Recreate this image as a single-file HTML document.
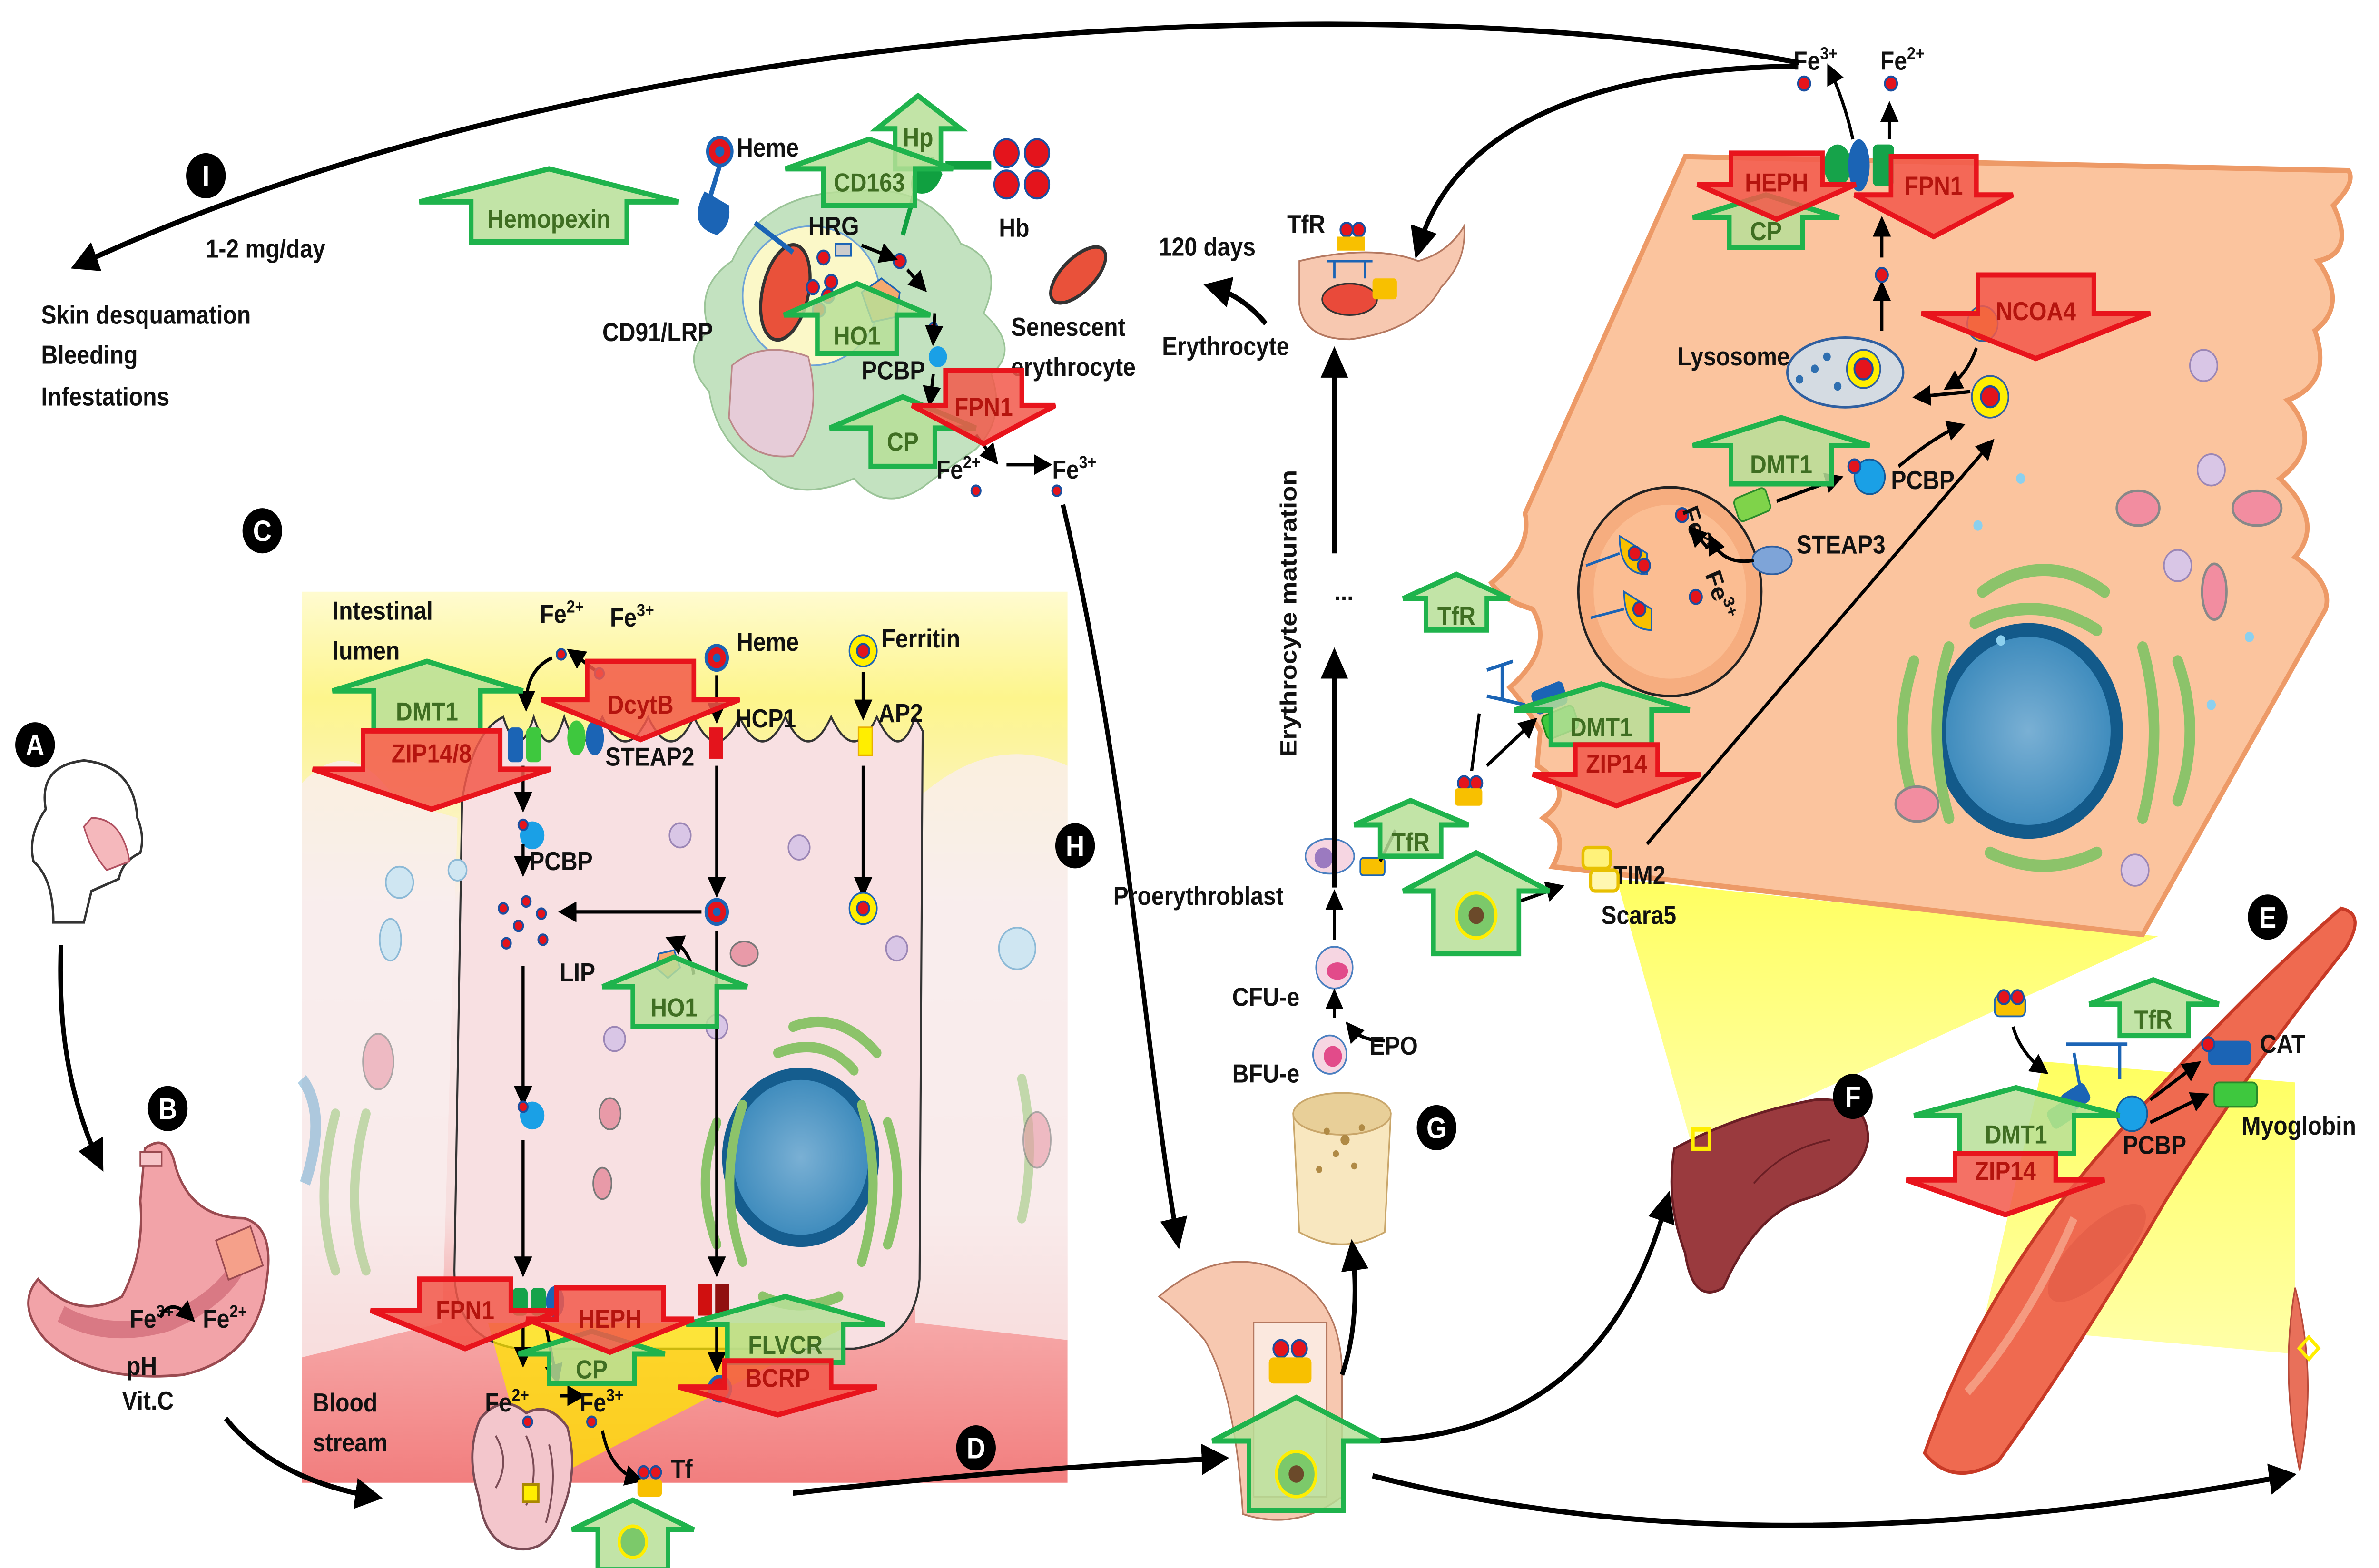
<!DOCTYPE html>
<html><head><meta charset="utf-8"><style>
html,body{margin:0;padding:0;background:#fff;width:100%;height:100%;overflow:hidden}
svg{display:block;position:absolute;left:0;top:0;width:100vw;height:100vh}
text{font-family:"Liberation Sans",sans-serif;font-weight:bold}
.t{font-size:15px;fill:#111}
.g{fill:#b7df98;fill-opacity:.85;stroke:#1fb34c;stroke-width:3;stroke-linejoin:miter}
.r{fill:#f2584a;fill-opacity:.85;stroke:#e8141c;stroke-width:3}
.gl{font-size:15px;fill:#3f6e22;text-anchor:middle}
.rl{font-size:15px;fill:#b5140e;text-anchor:middle}
.ar{fill:none;stroke:#000;stroke-width:3;marker-end:url(#ah)}
.as{fill:none;stroke:#000;stroke-width:2;marker-end:url(#ah2)}
.fe{fill:#e4141c;stroke:#1a4fa0;stroke-width:1.2}
.let{fill:#000}
.lt{fill:#fff;font-size:17px;text-anchor:middle}
</style></head><body>
<svg viewBox="0 0 1560 901" preserveAspectRatio="none" xmlns="http://www.w3.org/2000/svg" overflow="hidden">
<defs>
<marker id="ah" markerWidth="6" markerHeight="6" refX="4" refY="3" orient="auto" markerUnits="strokeWidth"><path d="M0,0 L6,3 L0,6 z" fill="#000"/></marker>
<marker id="ah2" markerWidth="6" markerHeight="6" refX="4" refY="3" orient="auto" markerUnits="strokeWidth"><path d="M0,0 L6,3 L0,6 z" fill="#000"/></marker>
<linearGradient id="intg" x1="0" y1="0" x2="0" y2="1">
<stop offset="0" stop-color="#fffbd0"/><stop offset="0.12" stop-color="#fdf58c"/><stop offset="0.28" stop-color="#fbf3c8"/><stop offset="0.35" stop-color="#f9ecec"/><stop offset="0.7" stop-color="#f7dede"/><stop offset="0.82" stop-color="#f6a8a8"/><stop offset="1" stop-color="#f27e7e"/>
</linearGradient>
<linearGradient id="yl" x1="0" y1="0" x2="0" y2="1"><stop offset="0" stop-color="#ffff60"/><stop offset="1" stop-color="#ffffa8"/></linearGradient>
<radialGradient id="nuc"><stop offset="0" stop-color="#7ab0d4"/><stop offset="1" stop-color="#3c8abc"/></radialGradient>
<clipPath id="cl"><rect x="0" y="0" width="1560" height="901"/></clipPath>
</defs>
<g clip-path="url(#cl)">
<rect x="198" y="340" width="502" height="512" fill="url(#intg)"/>
<path d="M198,450 Q230,420 260,460 L300,470 L290,760 L198,780 Z" fill="#f9eeee" opacity=".8"/>
<path d="M600,460 Q650,420 700,440 L700,770 L600,760 Z" fill="#f9eeee" opacity=".8"/>
<path d="M330,412 Q340,440 350,412 Q360,440 370,412 Q380,440 395,412 Q410,440 425,412 Q440,440 455,412 Q470,440 485,412 Q500,440 515,412 Q530,440 545,412 Q560,440 575,412 Q590,440 600,412 L605,420 L603,735 Q600,770 560,775 L340,775 Q298,770 298,730 L303,460 Q310,420 330,412 Z" fill="#f8e0e2" stroke="#333" stroke-width="1.3"/>
<circle cx="525" cy="665" r="48" fill="url(#nuc)" stroke="#155d8e" stroke-width="7"/>
<g fill="none" stroke="#8cc36a" stroke-width="6" stroke-linecap="round">
<path d="M470,645 Q455,680 470,715"/><path d="M487,635 Q470,680 487,725"/><path d="M582,645 Q595,680 582,715"/><path d="M565,635 Q580,680 565,725"/><path d="M520,590 Q550,580 575,605"/><path d="M510,605 Q540,595 560,615"/><path d="M500,745 Q525,755 550,745"/>
<path d="M220,640 Q205,690 220,730" opacity=".5"/><path d="M240,640 Q225,690 240,730" opacity=".5"/><path d="M670,620 Q680,660 670,700" opacity=".5"/>
</g>
<g fill="#d9c6e6" stroke="#9b86b5"><circle cx="446" cy="480" r="7"/><circle cx="524" cy="487" r="7"/><circle cx="588" cy="545" r="7"/><circle cx="470" cy="590" r="7"/><circle cx="403" cy="597" r="7"/></g>
<g fill="#cfe6f2" stroke="#8cb9d6"><circle cx="262" cy="507" r="9"/><circle cx="300" cy="500" r="6"/><circle cx="667" cy="545" r="12"/><ellipse cx="256" cy="540" rx="7" ry="12"/></g>
<g fill="#e89aa8" stroke="#777"><ellipse cx="488" cy="548" rx="9" ry="7"/><ellipse cx="400" cy="640" rx="7" ry="9"/><ellipse cx="395" cy="680" rx="6" ry="9"/><ellipse cx="248" cy="610" rx="10" ry="16" opacity=".6"/><ellipse cx="680" cy="655" rx="9" ry="16" opacity=".6"/></g>
<path d="M198,620 Q215,640 200,680" fill="none" stroke="#7ab0d4" stroke-width="7" opacity=".6"/>
<polygon points="320,760 560,760 350,855" fill="#ffe600" opacity=".75"/>
<path d="M315,815 Q330,800 345,812 Q360,805 372,820 Q380,845 368,870 Q360,892 340,890 Q318,888 314,860 Q305,835 315,815 Z" fill="#f3c6cc" stroke="#7a4b55" stroke-width="1.5"/>
<path d="M325,825 Q335,840 325,855 M345,825 Q355,845 345,865 M360,830 Q366,850 358,875" fill="none" stroke="#7a4b55" stroke-width="1.2"/>
<rect x="343" y="853" width="10" height="10" fill="#ffee00" stroke="#aa8800" stroke-width="1.5"/>

<polygon points="1060,505 1415,538 1110,660" fill="url(#yl)"/>
<path d="M1105,90 L1540,98 Q1545,105 1530,118 Q1545,145 1520,150 Q1540,175 1518,190 Q1530,220 1500,230 Q1525,255 1495,275 Q1525,300 1505,320 Q1530,335 1525,350 L1405,537 L1018,498 Q1030,480 1012,470 Q1035,455 1008,440 L1010,420 Q1000,405 990,395 Q1020,372 1005,350 Q985,345 978,335 Q1005,315 1000,295 Z" fill="#fbc49e" stroke="#ed9a67" stroke-width="3"/>
<circle cx="1095" cy="340" r="60" fill="#f6ad7f" stroke="#222" stroke-width="1.5"/>
<circle cx="1095" cy="340" r="50" fill="#fbbd92"/>
<circle cx="1330" cy="420" r="58" fill="url(#nuc)" stroke="#135a8a" stroke-width="8"/>
<g fill="none" stroke="#8cc36a" stroke-width="7" stroke-linecap="round">
<path d="M1255,380 Q1240,420 1255,460"/><path d="M1278,372 Q1262,420 1278,470"/><path d="M1405,372 Q1420,420 1405,470"/><path d="M1428,380 Q1444,420 1428,460"/>
<path d="M1300,340 Q1340,315 1380,340"/><path d="M1295,358 Q1335,340 1375,362"/><path d="M1305,490 Q1340,505 1375,490"/>
</g>
<g fill="#d9c6e6" stroke="#9b86b5"><circle cx="1445" cy="210" r="9"/><circle cx="1450" cy="270" r="9"/><circle cx="1428" cy="325" r="9"/><circle cx="1400" cy="500" r="9"/></g>
<g fill="#f28da0" stroke="#888" stroke-width="1.5"><ellipse cx="1402" cy="292" rx="14" ry="10"/><ellipse cx="1480" cy="292" rx="16" ry="10"/><ellipse cx="1452" cy="340" rx="8" ry="16"/><ellipse cx="1257" cy="462" rx="14" ry="10"/></g>
<g fill="#8cd0ee"><circle cx="1325" cy="275" r="3"/><circle cx="1297" cy="302" r="3"/><circle cx="1450" cy="405" r="3"/><circle cx="1475" cy="366" r="3"/><circle cx="1312" cy="368" r="3"/></g>
<ellipse cx="1210" cy="214" rx="38" ry="20" fill="#d4dbe2" stroke="#2f5fa0" stroke-width="1.5"/>
<g fill="#2f6fb0"><circle cx="1190" cy="212" r="2.5"/><circle cx="1198" cy="205" r="2.5"/><circle cx="1205" cy="222" r="2.5"/><circle cx="1180" cy="218" r="2.5"/></g>
<circle cx="1222" cy="212" r="11" fill="#ffee00" stroke="#2f5fa0"/><circle cx="1222" cy="212" r="6" class="fe"/>
<circle cx="1305" cy="228" r="12" fill="#ffee00" stroke="#2f5fa0"/><circle cx="1305" cy="228" r="6" class="fe"/>
<circle cx="1300" cy="186" r="10" fill="#f5b300" stroke="#2f5fa0"/>
<path d="M1062,308 Q1062,330 1080,330 L1080,318 Z" fill="#f8c000" stroke="#1b64b5"/>
<path d="M1065,340 Q1065,362 1083,362 L1083,350 Z" fill="#f8c000" stroke="#1b64b5"/>
<path d="M1040,325 L1062,318 M1043,355 L1065,350" stroke="#1b64b5" stroke-width="1.5"/>
<circle cx="1072" cy="318" r="4" class="fe"/><circle cx="1075" cy="350" r="4" class="fe"/><circle cx="1078" cy="325" r="4" class="fe"/><circle cx="1103" cy="296" r="4" class="fe"/><circle cx="1112" cy="343" r="4" class="fe"/>
<text x="1103" y="293" class="t" transform="rotate(70 1103 293)">Fe<tspan font-size="10" dy="-6">2+</tspan></text>
<text x="1118" y="330" class="t" transform="rotate(70 1118 330)">Fe<tspan font-size="10" dy="-6">3+</tspan></text>
<rect x="1138" y="283" width="22" height="14" rx="3" fill="#7fd34a" stroke="#2a8a2a" transform="rotate(-20 1149 290)"/>
<ellipse cx="1162" cy="322" rx="13" ry="8" fill="#7ea4d8" stroke="#2f5fa0"/>
<path d="M1150,322 Q1130,325 1122,310" class="as"/>
<path d="M1120,315 L1110,305" class="as"/>
<circle cx="1226" cy="274" r="10" fill="#1aa0e6" stroke="#145a99"/><circle cx="1216" cy="268" r="4" class="fe"/>
<path d="M1165,288 L1205,275" class="as"/>
<path d="M1245,268 Q1270,250 1285,245" class="as"/>
<path d="M1080,485 L1305,255" class="as"/>
<path d="M1292,225 L1258,228" class="as"/>
<path d="M1296,200 Q1290,215 1278,222" class="as"/>
<path d="M1234,190 L1234,165" class="as"/>
<circle cx="1234" cy="158" r="4" class="fe"/>
<path d="M1234,148 L1234,128" class="as"/>
<ellipse cx="1205" cy="95" rx="9" ry="12" fill="#16a34a"/><ellipse cx="1219" cy="95" rx="7" ry="15" fill="#1b64b5"/><rect x="1228" y="83" width="14" height="24" rx="3" fill="#16a34a"/>
<path d="M1215,80 Q1210,60 1200,40" class="as"/><path d="M1239,80 L1239,62" class="as"/>
<text x="1176" y="40" class="t">Fe<tspan font-size="10" dy="-6">3+</tspan></text>
<text x="1233" y="40" class="t">Fe<tspan font-size="10" dy="-6">2+</tspan></text>
<circle cx="1183" cy="48" r="4" class="fe"/><circle cx="1240" cy="48" r="4" class="fe"/>
<text x="1100" y="210" class="t">Lysosome</text>
<text x="1240" y="281" class="t">PCBP</text>
<text x="1178" y="318" class="t">STEAP3</text>
<text x="1058" y="508" class="t">TIM2</text>
<text x="1050" y="531" class="t">Scara5</text>
<rect x="1038" y="487" width="18" height="12" rx="3" fill="#fff27a" stroke="#e8c000" stroke-width="2"/><rect x="1043" y="500" width="18" height="12" rx="3" fill="#fff7b0" stroke="#e8c000" stroke-width="2"/>
<path d="M975,385 L992,380 M975,400 L1000,405 M985,382 L985,402" stroke="#1b64b5" stroke-width="2" fill="none"/>
<rect x="1005" y="394" width="22" height="14" rx="3" fill="#1b64b5" transform="rotate(-20 1016 401)"/>
<rect x="1012" y="408" width="22" height="14" rx="3" fill="#3ec83e" stroke="#1a8a1a" transform="rotate(-20 1023 415)"/>

<path d="M1098,660 Q1140,640 1190,632 Q1225,630 1225,655 Q1220,680 1180,690 Q1150,700 1130,740 Q1110,750 1105,720 Q1092,690 1098,660 Z" fill="#9a3a3e" stroke="#6a1e24" stroke-width="1.5"/>
<path d="M1150,680 Q1170,660 1200,655" stroke="#6a1e24" fill="none"/>
<rect x="1110" y="649" width="11" height="11" fill="none" stroke="#ffee00" stroke-width="2.5"/>

<polygon points="1340,610 1505,622 1505,778 1300,762" fill="url(#yl)"/>
<path d="M1262,835 Q1300,740 1380,660 Q1460,580 1535,522 Q1552,525 1538,545 Q1470,620 1420,690 Q1360,780 1310,840 Q1280,855 1262,835 Z" fill="#ef6a50" stroke="#c83a26" stroke-width="2"/>
<path d="M1290,800 Q1330,760 1360,700" stroke="#f59a80" stroke-width="5" fill="none"/>
<ellipse cx="1375" cy="720" rx="40" ry="15" fill="#e05a44" opacity=".6" transform="rotate(-40 1375 720)"/>
<path d="M1505,740 Q1520,790 1508,845 Q1495,790 1505,740 Z" fill="#e8705a" stroke="#b84a3a"/>
<rect x="1510" y="770" width="9" height="9" fill="none" stroke="#ffee00" stroke-width="2" transform="rotate(45 1514 774)"/>
<rect x="1308" y="572" width="20" height="12" rx="3" fill="#f8c000" stroke="#1b64b5"/><circle cx="1314" cy="573" r="4" class="fe"/><circle cx="1323" cy="573" r="4" class="fe"/>
<path d="M1355,600 L1395,600 M1360,605 L1365,630 M1390,600 L1390,620" stroke="#1b64b5" stroke-width="2" fill="none"/>
<rect x="1352" y="625" width="18" height="12" rx="3" fill="#1b64b5" transform="rotate(-30 1361 631)"/>
<rect x="1343" y="634" width="18" height="12" rx="3" fill="#3ec83e" transform="rotate(-30 1352 640)"/>
<circle cx="1398" cy="640" r="10" fill="#1aa0e6" stroke="#145a99"/>
<rect x="1448" y="598" width="28" height="14" rx="3" fill="#1b64b5"/><rect x="1452" y="622" width="28" height="14" rx="3" fill="#3ec83e" stroke="#2a8a2a"/>
<circle cx="1448" cy="600" r="4" class="fe"/>
<path d="M1320,590 Q1325,605 1340,615" class="as"/><path d="M1410,632 L1440,612" class="as"/><path d="M1410,645 L1445,630" class="as"/>
<text x="1482" y="605" class="t">CAT</text>
<text x="1470" y="652" class="t">Myoglobin</text>
<text x="1392" y="663" class="t">PCBP</text>

<path d="M848,640 Q880,630 912,640 L908,708 Q880,722 852,708 Z" fill="#f8e7bf" stroke="#c9a66a"/>
<ellipse cx="880" cy="640" rx="32" ry="12" fill="#e8cf98" stroke="#c9a66a"/>
<g fill="#b08a45"><circle cx="870" cy="650" r="2"/><circle cx="882" cy="655" r="3"/><circle cx="893" cy="648" r="2"/><circle cx="876" cy="663" r="2"/><circle cx="888" cy="670" r="2"/><circle cx="865" cy="672" r="2"/></g>
<circle cx="872" cy="606" r="11" fill="#f6d6e2" stroke="#4a7fc0"/><circle cx="874" cy="607" r="6" fill="#e24b8a"/>
<circle cx="875" cy="556" r="12" fill="#f6d6e2" stroke="#4a7fc0"/><ellipse cx="877" cy="558" rx="7" ry="5" fill="#e24b8a"/>
<ellipse cx="872" cy="492" rx="16" ry="10" fill="#f6d6e2" stroke="#4a7fc0"/><circle cx="868" cy="493" r="6" fill="#9b7ac0"/>
<rect x="892" y="493" width="16" height="10" rx="2" fill="#f8c000" stroke="#1b64b5"/>
<circle cx="960" cy="450" r="4" class="fe"/><circle cx="968" cy="450" r="4" class="fe"/><rect x="954" y="453" width="18" height="10" rx="2" fill="#f8c000"/>
<path d="M760,745 Q800,715 840,730 Q880,745 880,790 L880,860 Q850,880 815,870 Q810,800 790,770 Q775,755 760,745 Z" fill="#f7c8b0" stroke="#b47860"/>
<path d="M822,760 L870,760 L870,860 L822,860 Z" fill="#fbe8de" stroke="#b47860"/>
<circle cx="840" cy="775" r="5" class="fe"/><circle cx="852" cy="775" r="5" class="fe"/><rect x="832" y="780" width="28" height="15" rx="3" fill="#f8c000"/>
<path d="M852,150 Q900,140 930,150 Q950,145 960,130 Q962,150 945,165 Q930,190 885,195 Q855,195 852,175 Z" fill="#f7c8b0" stroke="#b47860"/>
<ellipse cx="885" cy="172" rx="18" ry="9" fill="#e94a3a" stroke="#333"/>
<rect x="900" y="160" width="16" height="12" rx="2" fill="#f8c000"/><circle cx="883" cy="132" r="4" class="fe"/><circle cx="891" cy="132" r="4" class="fe"/><rect x="877" y="136" width="18" height="8" fill="#f8c000"/>
<path d="M870,150 L900,150 M875,150 L875,160 M895,150 L895,160" stroke="#1b64b5" stroke-width="1.5"/>
<path d="M480,150 Q500,110 560,110 Q610,105 630,140 Q660,150 645,180 Q670,200 650,215 Q660,240 640,258 Q620,270 605,280 Q580,295 560,275 Q520,290 500,270 Q470,255 465,225 Q445,205 465,190 Q455,165 480,150 Z" fill="#c3e2c0" stroke="#9bc498"/>
<ellipse cx="532" cy="170" rx="45" ry="40" fill="#fbf8c8" stroke="#6ea3d6"/>
<ellipse cx="515" cy="168" rx="15" ry="28" fill="#e9513a" stroke="#333" stroke-width="2" transform="rotate(15 515 168)"/>
<path d="M480,210 Q500,195 530,205 Q540,240 520,262 Q490,265 478,240 Z" fill="#e6ccd8" stroke="#b88"/>
<g class="fe"><circle cx="540" cy="148" r="4"/><circle cx="533" cy="165" r="4"/><circle cx="543" cy="170" r="4"/><circle cx="537" cy="178" r="4"/><circle cx="545" cy="162" r="4"/></g>
<polygon points="565,168 578,160 590,168 588,182 572,185" fill="#f5a96e" stroke="#1b64b5"/>
<rect x="548" y="140" width="10" height="7" fill="#ccc" stroke="#1b64b5"/>
<circle cx="590" cy="150" r="4" class="fe"/><circle cx="612" cy="188" r="2.5" class="fe"/>
<circle cx="615" cy="205" r="6" fill="#1aa0e6"/>
<path d="M565,141 L585,148" class="as"/><path d="M595,155 L605,165" class="as"/><path d="M613,180 L612,195" class="as"/><path d="M612,215 L610,230" class="as"/><path d="M640,250 L652,264" class="as"/><path d="M660,267 L686,267" class="as"/>
<circle cx="472" cy="87" r="8" fill="#e4141c" stroke="#1b64b5" stroke-width="2"/><circle cx="472" cy="87" r="3" fill="#1b64b5"/>
<path d="M472,95 L465,115 M495,128 L520,145" stroke="#1b64b5" stroke-width="3"/>
<path d="M462,110 Q450,130 470,135 Q480,130 478,118 Z" fill="#1b64b5"/>
<path d="M612,90 Q595,95 598,110 Q612,115 618,100 Z" fill="#10a040"/><path d="M620,95 L650,95" stroke="#10a040" stroke-width="5"/><path d="M600,110 L592,135" stroke="#10a040" stroke-width="3"/>
<g class="fe"><circle cx="660" cy="88" r="8"/><circle cx="680" cy="88" r="8"/><circle cx="660" cy="106" r="8"/><circle cx="680" cy="106" r="8"/></g>
<ellipse cx="707" cy="158" rx="10" ry="22" fill="#e9513a" stroke="#333" stroke-width="2" transform="rotate(50 707 158)"/>
<text x="483" y="90" class="t">Heme</text>
<text x="655" y="136" class="t">Hb</text>
<text x="530" y="135" class="t">HRG</text>
<text x="395" y="196" class="t">CD91/LRP</text>
<text x="565" y="218" class="t">PCBP</text>
<text x="663" y="193" class="t">Senescent</text>
<text x="663" y="216" class="t">erythrocyte</text>
<text x="614" y="275" class="t">Fe<tspan font-size="10" dy="-6">2+</tspan></text>
<text x="690" y="275" class="t">Fe<tspan font-size="10" dy="-6">3+</tspan></text>
<circle cx="640" cy="282" r="3" class="fe"/><circle cx="693" cy="282" r="3" class="fe"/>

<rect x="333" y="418" width="10" height="20" rx="3" fill="#1b64b5"/><rect x="345" y="418" width="10" height="20" rx="3" fill="#3ec83e"/>
<ellipse cx="378" cy="424" rx="6" ry="10" fill="#3ec83e"/><ellipse cx="390" cy="424" rx="6" ry="10" fill="#1b64b5"/>
<rect x="465" y="418" width="9" height="18" fill="#e4141c"/><rect x="563" y="418" width="9" height="16" fill="#ffee00" stroke="#e8b000"/>
<circle cx="470" cy="378" r="7" fill="#e4141c" stroke="#1b64b5" stroke-width="2"/><circle cx="470" cy="378" r="2.5" fill="#1b64b5"/>
<circle cx="566" cy="374" r="9" fill="#ffee00" stroke="#1b64b5"/><circle cx="566" cy="374" r="4" class="fe"/>
<circle cx="368" cy="376" r="3" class="fe"/><circle cx="393" cy="387" r="3" class="fe"/>
<path d="M362,378 Q345,385 345,405" class="as"/><path d="M390,385 L375,375" class="as"/>
<path d="M470,388 L470,412" class="as"/><path d="M566,386 L566,410" class="as"/>
<path d="M343,440 L343,463" class="as"/><circle cx="349" cy="480" r="8" fill="#1aa0e6"/><circle cx="343" cy="474" r="3" class="fe"/>
<path d="M343,485 L343,500" class="as"/>
<g class="fe"><circle cx="330" cy="522" r="3"/><circle cx="345" cy="518" r="3"/><circle cx="355" cy="525" r="3"/><circle cx="340" cy="532" r="3"/><circle cx="332" cy="542" r="3"/><circle cx="356" cy="540" r="3"/></g>
<path d="M470,440 L470,512" class="as"/><circle cx="470" cy="524" r="7" fill="#e4141c" stroke="#1b64b5" stroke-width="2"/><circle cx="470" cy="524" r="2.5" fill="#1b64b5"/>
<path d="M460,524 L370,524" class="as"/><path d="M455,560 Q452,545 440,540" class="as"/>
<polygon points="432,548 442,546 446,556 438,562 430,556" fill="#f5a96e" stroke="#1b64b5"/>
<path d="M566,440 L566,512" class="as"/><circle cx="566" cy="522" r="9" fill="#ffee00" stroke="#1b64b5"/><circle cx="566" cy="522" r="4" class="fe"/>
<path d="M343,555 L343,632" class="as"/><circle cx="349" cy="641" r="8" fill="#1aa0e6"/><circle cx="343" cy="636" r="3" class="fe"/>
<path d="M343,655 L343,730" class="as"/><path d="M470,535 L470,730" class="as"/>
<rect x="336" y="740" width="10" height="16" rx="3" fill="#16a34a"/><rect x="348" y="740" width="10" height="16" rx="3" fill="#16a34a"/><ellipse cx="364" cy="748" rx="6" ry="9" fill="#1b64b5"/>
<rect x="458" y="738" width="9" height="18" fill="#d01010"/><rect x="469" y="738" width="9" height="18" fill="#901010"/>
<path d="M343,762 L343,782" class="as"/><path d="M358,762 Q362,780 365,792" class="as"/><path d="M470,762 L470,785" class="as"/>
<circle cx="472" cy="798" r="7" fill="#e4141c" stroke="#1b64b5" stroke-width="2"/>
<path d="M367,802 L380,802" class="as"/>
<circle cx="346" cy="817" r="3" class="fe"/><circle cx="388" cy="817" r="3" class="fe"/>
<path d="M395,822 Q400,845 418,850" class="as"/>
<rect x="418" y="850" width="16" height="10" rx="2" fill="#f8c000"/><circle cx="422" cy="846" r="3.5" class="fe"/><circle cx="430" cy="846" r="3.5" class="fe"/>
<text x="218" y="356" class="t">Intestinal</text>
<text x="218" y="379" class="t">lumen</text>
<text x="354" y="358" class="t">Fe<tspan font-size="10" dy="-6">2+</tspan></text>
<text x="400" y="360" class="t">Fe<tspan font-size="10" dy="-6">3+</tspan></text>
<text x="483" y="374" class="t">Heme</text>
<text x="578" y="372" class="t">Ferritin</text>
<text x="482" y="418" class="t">HCP1</text>
<text x="576" y="415" class="t">AP2</text>
<text x="397" y="440" class="t">STEAP2</text>
<text x="347" y="500" class="t">PCBP</text>
<text x="367" y="564" class="t">LIP</text>
<text x="205" y="811" class="t">Blood</text>
<text x="205" y="834" class="t">stream</text>
<text x="318" y="811" class="t">Fe<tspan font-size="10" dy="-6">2+</tspan></text>
<text x="380" y="811" class="t">Fe<tspan font-size="10" dy="-6">3+</tspan></text>
<text x="440" y="849" class="t">Tf</text>

<path d="M95,660 Q110,650 115,670 Q125,700 160,700 Q180,705 175,735 Q170,780 120,790 Q60,795 30,770 Q10,750 25,735 Q50,760 80,745 Q95,720 92,690 Z" fill="#f2a3a8" stroke="#9a4a50" stroke-width="1.5"/>
<path d="M40,755 Q70,770 110,760 Q150,745 160,720" fill="none" stroke="#c05060" stroke-width="10" opacity=".5"/>
<rect x="92" y="662" width="14" height="8" fill="#f7c5c8" stroke="#9a4a50"/>
<rect x="145" y="708" width="24" height="24" fill="#f5a08a" stroke="#9a4a50" transform="rotate(-20 157 720)"/>
<text x="85" y="763" class="t">Fe<tspan font-size="10" dy="-6">3+</tspan></text>
<text x="133" y="763" class="t">Fe<tspan font-size="10" dy="-6">2+</tspan></text>
<path d="M105,757 Q112,745 125,757" class="as"/>
<text x="83" y="790" class="t">pH</text>
<text x="80" y="810" class="t">Vit.C</text>
<path d="M30,465 Q25,440 55,437 Q88,440 90,470 Q95,480 92,490 Q80,495 78,505 L60,512 L55,530 L35,530 Q35,505 22,495 Q18,480 30,465 Z" fill="#fff" stroke="#333" stroke-width="1.5"/>
<path d="M60,470 Q80,470 85,495 L70,500 Q60,490 55,475 Z" fill="#f5b8bc" stroke="#b05060"/>

<path d="M1180,36 C900,-10 400,10 52,152" class="ar"/>
<path d="M1178,38 C1030,40 950,80 930,143" class="ar"/>
<path d="M40,543 C38,590 45,630 65,668" class="ar"/>
<path d="M148,815 Q180,850 245,860" class="ar"/>
<path d="M520,858 Q650,845 800,838" class="ar"/>
<path d="M697,290 C740,450 750,600 772,712" class="ar"/>
<path d="M880,790 Q892,760 887,718" class="ar"/>
<path d="M888,828 Q1050,830 1093,690" class="ar"/>
<path d="M900,848 Q1150,905 1500,848" class="ar"/>
<path d="M875,510 L875,378" class="ar"/>
<path d="M875,318 L875,205" class="ar"/>
<path d="M875,585 L875,572" class="as"/><path d="M875,540 L875,515" class="as"/>
<path d="M908,598 Q892,598 885,590" class="as"/>
<path d="M830,186 Q815,170 795,165" class="ar"/>
<path d="M905,495 L915,477 M965,443 L970,410 M975,440 L1005,415" class="as"/>
<path d="M996,518 L1022,510" class="as"/>
<text x="875" y="345" class="t">...</text>
<text x="850" y="435" class="t" transform="rotate(-90 850 435)">Erythrocyte maturation</text>
<text x="760" y="147" class="t">120 days</text>
<text x="844" y="134" class="t">TfR</text>
<text x="762" y="204" class="t">Erythrocyte</text>
<text x="730" y="520" class="t">Proerythroblast</text>
<text x="808" y="578" class="t">CFU-e</text>
<text x="808" y="622" class="t">BFU-e</text>
<text x="898" y="606" class="t">EPO</text>
<text x="135" y="148" class="t">1-2 mg/day</text>
<text x="27" y="186" class="t">Skin desquamation</text>
<text x="27" y="209" class="t">Bleeding</text>
<text x="27" y="233" class="t">Infestations</text>

<polygon class="g" points="360,97 445,116 411,116 411,139 309,139 309,116 275,116"/><text class="gl" x="360" y="131">Hemopexin</text>
<polygon class="g" points="602,55 630,74 617,74 617,97 587,97 587,74 575,74"/><text class="gl" x="602" y="84">Hp</text>
<polygon class="g" points="570,80 625,97 600,97 600,118 540,118 540,97 515,97"/><text class="gl" x="570" y="110">CD163</text>
<polygon class="g" points="562,163 610,181 588,181 588,203 536,203 536,181 514,181"/><text class="gl" x="562" y="198">HO1</text>
<polygon class="g" points="592,228 640,246 613,246 613,268 571,268 571,246 544,246"/><text class="gl" x="592" y="259">CP</text>
<polygon class="g" points="1158,112 1206,125 1182,125 1182,142 1134,142 1134,125 1110,125"/><text class="gl" x="1158" y="138">CP</text>
<polygon class="g" points="280,380 343,397 315,397 315,420 245,420 245,397 218,397"/><text class="gl" x="280" y="414">DMT1</text>
<polygon class="g" points="442,550 490,567 470,567 470,590 415,590 415,567 395,567"/><text class="gl" x="442" y="584">HO1</text>
<polygon class="g" points="388,765 436,778 416,778 416,795 360,795 360,778 340,778"/><text class="gl" x="388" y="792">CP</text>
<polygon class="g" points="515,745 580,761 553,761 553,783 477,783 477,761 450,761"/><text class="gl" x="515" y="778">FLVCR</text>
<polygon class="g" points="415,862 455,879 438,879 438,902 392,902 392,879 375,879"/>
<circle cx="415" cy="886" r="9" fill="#7cc96a" stroke="#ffee00" stroke-width="2"/>
<polygon class="g" points="955,330 990,344 975,344 975,362 935,362 935,344 920,344"/><text class="gl" x="955" y="359">TfR</text>
<polygon class="g" points="925,460 963,474 945,474 945,492 905,492 905,474 888,474"/><text class="gl" x="925" y="489">TfR</text>
<polygon class="g" points="968,490 1016,512 996,512 996,548 940,548 940,512 920,512"/>
<circle cx="968" cy="526" r="13" fill="#7cc96a" stroke="#ffee00" stroke-width="2"/><circle cx="968" cy="526" r="5" fill="#6b4a2a"/>
<polygon class="g" points="1050,393 1108,408 1083,408 1083,428 1017,428 1017,408 993,408"/><text class="gl" x="1050" y="423">DMT1</text>
<polygon class="g" points="1168,240 1226,256 1201,256 1201,278 1135,278 1135,256 1110,256"/><text class="gl" x="1168" y="272">DMT1</text>
<polygon class="g" points="1412,563 1455,577 1435,577 1435,595 1390,595 1390,577 1370,577"/><text class="gl" x="1412" y="591">TfR</text>
<polygon class="g" points="1322,625 1390,641 1360,641 1360,663 1285,663 1285,641 1255,641"/><text class="gl" x="1322" y="657">DMT1</text>
<polygon class="g" points="850,803 905,828 881,828 881,868 819,868 819,828 795,828"/>
<circle cx="850" cy="847" r="13" fill="#7cc96a" stroke="#ffee00" stroke-width="2"/><circle cx="850" cy="847" r="5" fill="#6b4a2a"/>

<polygon class="r" points="238,420 328,420 328,442 361,442 283,465 205,442 238,442"/><text class="rl" x="283" y="438">ZIP14/8</text>
<polygon class="r" points="385,380 455,380 455,402 485,402 420,425 355,402 385,402"/><text class="rl" x="420" y="410">DcytB</text>
<polygon class="r" points="620,213 670,213 670,233 692,233 645,255 598,233 620,233"/><text class="rl" x="645" y="239">FPN1</text>
<polygon class="r" points="1135,88 1195,88 1195,106 1217,106 1165,126 1113,106 1135,106"/><text class="rl" x="1165" y="110">HEPH</text>
<polygon class="r" points="1240,90 1296,90 1296,112 1320,112 1268,136 1216,112 1240,112"/><text class="rl" x="1268" y="112">FPN1</text>
<polygon class="r" points="1297,158 1373,158 1373,180 1410,180 1335,206 1260,180 1297,180"/><text class="rl" x="1335" y="184">NCOA4</text>
<polygon class="r" points="1033,428 1087,428 1087,445 1115,445 1060,463 1005,445 1033,445"/><text class="rl" x="1060" y="444">ZIP14</text>
<polygon class="r" points="275,735 335,735 335,753 367,753 305,775 243,753 275,753"/><text class="rl" x="305" y="758">FPN1</text>
<polygon class="r" points="365,740 435,740 435,758 455,758 400,777 345,758 365,758"/><text class="rl" x="400" y="763">HEPH</text>
<polygon class="r" points="475,782 545,782 545,797 575,797 510,813 445,797 475,797"/><text class="rl" x="510" y="797">BCRP</text>
<polygon class="r" points="1282,663 1348,663 1348,678 1380,678 1315,698 1250,678 1282,678"/><text class="rl" x="1315" y="678">ZIP14</text>

<g class="let"><circle cx="135" cy="101" r="13"/><circle cx="172" cy="305" r="13"/><circle cx="23" cy="428" r="13"/><circle cx="110" cy="637" r="13"/><circle cx="705" cy="486" r="13"/><circle cx="640" cy="832" r="13"/><circle cx="942" cy="648" r="13"/><circle cx="1215" cy="630" r="13"/><circle cx="1487" cy="527" r="13"/></g>
<text class="lt" x="135" y="107">I</text><text class="lt" x="172" y="311">C</text><text class="lt" x="23" y="434">A</text><text class="lt" x="110" y="643">B</text><text class="lt" x="705" y="492">H</text><text class="lt" x="640" y="838">D</text><text class="lt" x="942" y="654">G</text><text class="lt" x="1215" y="636">F</text><text class="lt" x="1487" y="533">E</text>
</g>
</svg>
</body></html>
